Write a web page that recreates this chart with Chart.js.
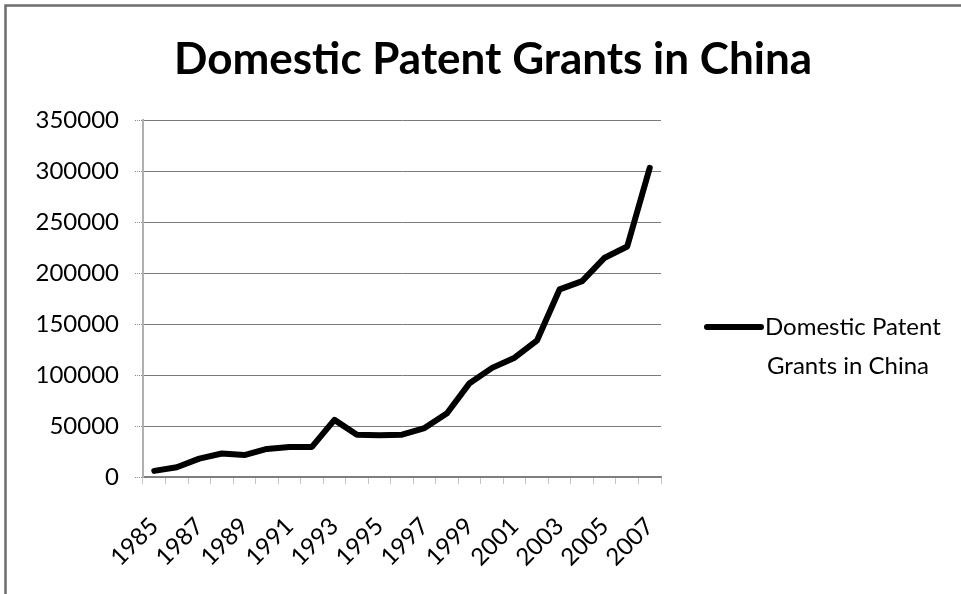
<!DOCTYPE html>
<html>
<head>
<meta charset="utf-8">
<script src="https://cdn.jsdelivr.net/npm/chart.js@4.4.1/dist/chart.umd.min.js"></script>
<style>
  html, body { margin: 0; padding: 0; background: #fff; }
  #wrap { width: 961px; height: 594px; position: relative; }
</style>
</head>
<body>
<div id="wrap"><canvas id="chart" width="961" height="594"></canvas></div>
<script>
// data
const chartTitle = 'Domestic Patent Grants in China';
const seriesName = 'Domestic Patent Grants in China';
const legendLines = ['Domestic Patent', 'Grants in China'];
const years = ['1985', '1986', '1987', '1988', '1989', '1990', '1991', '1992', '1993', '1994', '1995', '1996',
  '1997', '1998', '1999', '2000', '2001', '2002', '2003', '2004', '2005', '2006', '2007'];
const grants = [6000, 9500, 18000, 23000, 21500, 27500, 29500, 29500, 56000, 41500, 41000, 41500,
  48000, 62500, 92000, 107000, 117000, 134000, 184000, 192000, 215000, 226000, 303000];
const yMin = 0;
const yMax = 350000;
const yStep = 50000;

const FONT = 'Lato, "Open Sans", sans-serif';

// frame, title and the two-line legend (Chart.js legend can't wrap)
const decor = {
  id: 'decor',
  beforeDraw(chart) {
    const ctx = chart.ctx;
    ctx.save();
    ctx.strokeStyle = '#6e6e6e';
    ctx.lineWidth = 2.5;
    ctx.beginPath();
    ctx.moveTo(5.5, 594);
    ctx.lineTo(5.5, 5.5);
    ctx.lineTo(961, 5.5);
    ctx.stroke();
    ctx.restore();
  },
  afterDraw(chart) {
    const ctx = chart.ctx;
    ctx.save();
    ctx.fillStyle = '#000';
    ctx.font = 'bold 44px ' + FONT;
    ctx.textAlign = 'center';
    ctx.textBaseline = 'alphabetic';
    ctx.fillText(chartTitle, 493, 74);

    const ly = 327;
    ctx.strokeStyle = '#000';
    ctx.lineWidth = 6;
    ctx.lineCap = 'round';
    ctx.beginPath();
    ctx.moveTo(707, ly);
    ctx.lineTo(761, ly);
    ctx.stroke();

    ctx.font = '24px ' + FONT;
    ctx.textAlign = 'left';
    ctx.textBaseline = 'middle';
    ctx.fillText(legendLines[0], 765, ly);
    ctx.fillText(legendLines[1], 767, ly + 39);
    ctx.restore();
  }
};

new Chart(document.getElementById('chart'), {
  type: 'line',
  data: {
    labels: years,
    datasets: [{
      label: seriesName,
      data: grants,
      borderColor: '#000',
      borderWidth: 6,
      borderJoinStyle: 'round',
      borderCapStyle: 'round',
      pointRadius: 0,
      tension: 0,
      fill: false
    }]
  },
  options: {
    responsive: false,
    animation: false,
    layout: { padding: { left: 0, right: 300, top: 120, bottom: 0 } },
    plugins: {
      legend: { display: false },
      title: { display: false },
      tooltip: { enabled: false }
    },
    scales: {
      x: {
        offset: true,
        grid: {
          offset: true,
          drawOnChartArea: false,
          drawTicks: true,
          tickLength: 7,
          tickColor: '#8a8a8a',
          tickBorderDash: [1, 1]
        },
        border: { color: '#808080', width: 1.5, dash: [2, 2] },
        ticks: {
          autoSkip: false,
          minRotation: 45,
          maxRotation: 45,
          padding: 28,
          color: '#000',
          font: { family: FONT, size: 24 },
          callback: function (val, i) { return i % 2 === 0 ? this.getLabelForValue(val) : ''; }
        },
        afterFit(scale) { scale.height = 117; }
      },
      y: {
        min: yMin,
        max: yMax,
        ticks: {
          stepSize: yStep,
          padding: 16,
          color: '#000',
          font: { family: FONT, size: 24 },
          callback: (v) => String(v)
        },
        grid: {
          color: '#7a7a7a',
          lineWidth: 1,
          borderDash: [2, 2],
          tickLength: 8,
          tickColor: '#8a8a8a',
          tickBorderDash: [1, 1]
        },
        border: { color: '#b0b0b0', width: 2 },
        afterFit(scale) { scale.width = 143; }
      }
    }
  },
  plugins: [decor]
});
</script>
</body>
</html>
